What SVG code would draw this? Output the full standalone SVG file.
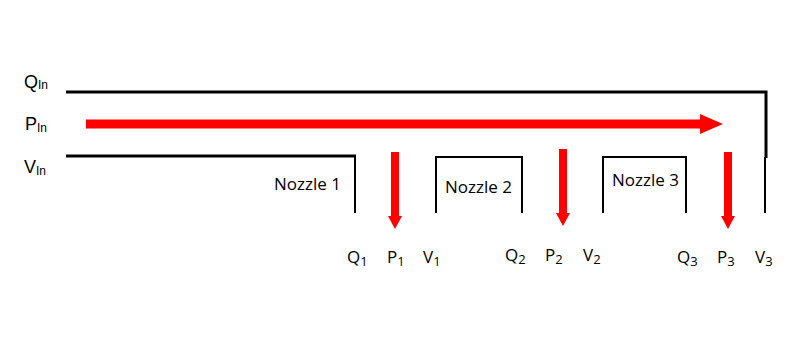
<svg xmlns="http://www.w3.org/2000/svg" width="800" height="359" viewBox="0 0 800 359">
<style>
.pipe{fill:none;stroke:#000;stroke-width:3}
.thin{fill:none;stroke:#000;stroke-width:2}
.red{fill:#f00}
.lbl{font-family:"Liberation Sans",Arial,sans-serif;font-size:18px;fill:#000}
.sub{font-size:12px}
.cal{font-family:"Open Sans","Liberation Sans",sans-serif;font-size:17px;fill:#000}
.csub{font-size:13px}
</style>
<rect width="800" height="359" fill="#fff"/>
<g id="connectors">
<polyline class="pipe" points="66,92 766,92 766,158"/>
<line class="thin" x1="765" y1="157" x2="765" y2="213"/>
<path class="red" d="M86,119.5 H700 V114 L723,124 L700,134 V128.5 H86 Z"/>
</g>
<g id="inlet">
<polyline class="pipe" points="66,156 356,156"/>
<text class="lbl" x="24" y="88">Q<tspan class="sub" dy="1">In</tspan></text>
<text class="lbl" x="25" y="130">P<tspan class="sub" dy="2">In</tspan></text>
<text class="lbl" x="24" y="173">V<tspan class="sub" dy="2">In</tspan></text>
</g>
<g id="nozzle1">
<polyline class="thin" points="355,156 355,213"/>
<text class="cal" x="274" y="190">Nozzle 1</text>
</g>
<g id="nozzle2">
<polyline class="thin" points="436,213 436,157 522,157 522,213"/>
<text class="cal" x="445" y="193">Nozzle 2</text>
</g>
<g id="nozzle3">
<polyline class="thin" points="603,213 603,157 686,157 686,213"/>
<text class="cal" x="612" y="186">Nozzle 3</text>
</g>
<g id="p1arrow"><path class="red" d="M391,152 H399 V216 H402 L395,229 L388,216 H391 Z"/></g>
<g id="p2arrow"><path class="red" d="M559,149 H567 V213 H570 L563,226 L556,213 H559 Z"/></g>
<g id="p3arrow"><path class="red" d="M724,152 H732 V216 H735 L728,229 L721,216 H724 Z"/></g>
<g id="outlets">
<text class="cal" x="347" y="263">Q<tspan class="csub" dy="3">1</tspan></text>
<text class="cal" x="387" y="263">P<tspan class="csub" dy="3">1</tspan></text>
<text class="cal" x="423" y="263">V<tspan class="csub" dy="3">1</tspan></text>
<text class="cal" x="505" y="261">Q<tspan class="csub" dy="3">2</tspan></text>
<text class="cal" x="545" y="261">P<tspan class="csub" dy="3">2</tspan></text>
<text class="cal" x="583" y="261">V<tspan class="csub" dy="3">2</tspan></text>
<text class="cal" x="677" y="263">Q<tspan class="csub" dy="3">3</tspan></text>
<text class="cal" x="717" y="263">P<tspan class="csub" dy="3">3</tspan></text>
<text class="cal" x="755" y="263">V<tspan class="csub" dy="3">3</tspan></text>
</g>
</svg>
